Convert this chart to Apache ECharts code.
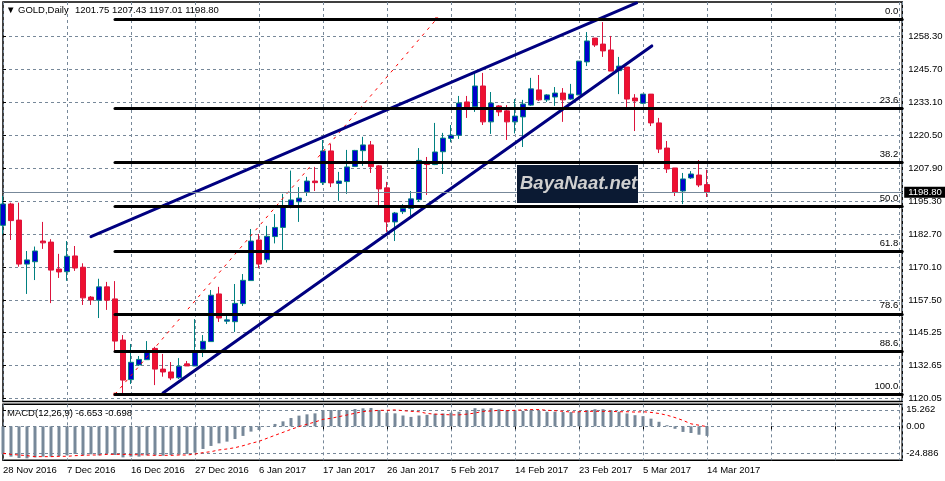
<!DOCTYPE html>
<html>
<head>
<meta charset="utf-8">
<title>GOLD Daily</title>
<script src="https://cdn.jsdelivr.net/npm/echarts@6/dist/echarts.min.js"></script>
<style>
html, body { margin: 0; padding: 0; background: #fff; }
#main { width: 945px; height: 481px; }
</style>
</head>
<body>
<div id="main"></div>
<script>
// bar dates, one per daily candle
var dates = [
  '28 Nov 2016','29 Nov 2016','30 Nov 2016','1 Dec 2016','2 Dec 2016','4 Dec 2016','5 Dec 2016','6 Dec 2016',
  '7 Dec 2016','8 Dec 2016','9 Dec 2016','11 Dec 2016','12 Dec 2016','13 Dec 2016','14 Dec 2016','15 Dec 2016',
  '16 Dec 2016','18 Dec 2016','19 Dec 2016','20 Dec 2016','21 Dec 2016','22 Dec 2016','23 Dec 2016','26 Dec 2016',
  '27 Dec 2016','28 Dec 2016','29 Dec 2016','30 Dec 2016','2 Jan 2017','3 Jan 2017','4 Jan 2017','5 Jan 2017',
  '6 Jan 2017','8 Jan 2017','9 Jan 2017','10 Jan 2017','11 Jan 2017','12 Jan 2017','13 Jan 2017','15 Jan 2017',
  '17 Jan 2017','18 Jan 2017','19 Jan 2017','20 Jan 2017','22 Jan 2017','23 Jan 2017','24 Jan 2017','25 Jan 2017',
  '26 Jan 2017','27 Jan 2017','29 Jan 2017','30 Jan 2017','31 Jan 2017','1 Feb 2017','2 Feb 2017','3 Feb 2017',
  '5 Feb 2017','6 Feb 2017','7 Feb 2017','8 Feb 2017','9 Feb 2017','10 Feb 2017','12 Feb 2017','13 Feb 2017',
  '14 Feb 2017','15 Feb 2017','16 Feb 2017','17 Feb 2017','19 Feb 2017','20 Feb 2017','21 Feb 2017','22 Feb 2017',
  '23 Feb 2017','24 Feb 2017','26 Feb 2017','27 Feb 2017','28 Feb 2017','1 Mar 2017','2 Mar 2017','3 Mar 2017',
  '5 Mar 2017','6 Mar 2017','7 Mar 2017','8 Mar 2017','9 Mar 2017','10 Mar 2017','12 Mar 2017','13 Mar 2017',
  '14 Mar 2017'
];
var opens = [
  1186.2,1194.35,1188.2,1171.4,1172.3,1180.2,1179.8,1169.5,1168.5,1174.5,1170.2,1158.8,1157.6,1162.7,1158.1,1142.4,
  1127.3,1132.9,1134.9,1139.2,1131.3,1130.2,1128.0,1133.3,1132.5,1138.9,1141.8,1160.0,1149.6,1149.4,1156.3,1165.1,
  1180.6,1173.1,1181.9,1185.4,1193.3,1195.2,1198.9,1203.1,1202.5,1214.6,1202.2,1202.9,1208.7,1214.7,1216.9,1208.9,
  1200.5,1187.5,1191.4,1192.7,1196.0,1209.75,1209.4,1214.3,1219.4,1220.6,1233.3,1231.5,1239.4,1225.7,1231.8,1229.9,
  1225.7,1227.6,1232.1,1237.9,1234.1,1235.2,1236.7,1234.4,1236.0,1248.6,1257.7,1255.4,1253.15,1245.25,1246.65,1234.8,
  1232.8,1236.3,1225.3,1215.7,1208.1,1199.3,1204.3,1205.4,1201.75
];
var closes = [
  1194.35,1188.0,1171.4,1173.0,1176.4,1179.5,1169.1,1168.4,1174.4,1169.9,1158.5,1157.7,1162.7,1157.6,1142.0,1127.1,
  1133.9,1135.0,1137.8,1131.3,1130.2,1127.9,1132.4,1132.5,1137.8,1141.9,1159.5,1150.8,1150.1,1156.4,1165.2,1180.2,
  1171.4,1182.0,1185.4,1193.1,1195.9,1196.6,1203.1,1202.5,1214.6,1202.4,1203.1,1208.5,1214.8,1216.9,1208.6,1200.1,
  1187.5,1190.9,1192.7,1196.3,1211.0,1209.4,1214.2,1219.5,1220.6,1232.9,1231.0,1239.4,1225.7,1232.9,1229.5,1225.7,
  1227.9,1232.5,1238.3,1234.1,1236.0,1236.7,1234.1,1236.3,1248.9,1256.6,1255.05,1252.8,1245.1,1247.0,1234.4,1233.7,
  1236.3,1225.3,1215.3,1207.7,1198.9,1203.9,1205.8,1201.6,1198.80
];
var lows = [
  1182.76,1180.6,1170.4,1160.0,1165.3,1177.2,1156.5,1166.1,1165.0,1168.8,1155.8,1155.8,1150.8,1153.9,1138.0,1122.0,
  1125.6,1132.5,1134.8,1125.2,1128.4,1127.1,1127.5,1132.5,1132.5,1135.9,1141.8,1149.3,1148.5,1145.5,1155.4,1165.1,
  1169.8,1172.0,1179.3,1176.8,1192.7,1187.5,1197.4,1199.3,1201.6,1200.8,1195.5,1198.2,1208.6,1208.9,1206.2,1193.3,
  1183.7,1180.2,1190.5,1189.8,1195.1,1197.8,1209.2,1205.8,1217.9,1219.2,1227.2,1229.5,1224.5,1221.1,1227.9,1218.8,
  1221.3,1216.1,1231.8,1233.7,1233.3,1231.8,1225.7,1234.1,1236.0,1247.0,1254.3,1250.5,1245.1,1236.3,1231.3,1222.2,
  1232.5,1224.1,1213.8,1206.2,1197.4,1194.3,1203.9,1200.8,1197.01
];
var highs = [
  1197.4,1194.85,1194.85,1176.4,1178.1,1187.5,1180.9,1175.3,1180.2,1178.3,1171.7,1159.2,1165.8,1164.6,1164.9,1144.3,
  1140.9,1136.3,1142.0,1139.8,1137.1,1134.0,1135.5,1134.4,1150.4,1144.3,1161.5,1162.7,1152.0,1163.8,1167.6,1184.8,
  1182.9,1186.0,1190.5,1198.2,1207.1,1200.8,1204.7,1208.5,1218.8,1217.3,1206.6,1215.0,1215.0,1220.0,1218.4,1209.2,
  1202.8,1191.3,1194.3,1199.3,1215.7,1212.3,1225.3,1221.5,1224.5,1235.6,1235.6,1245.1,1244.4,1237.1,1232.1,1232.1,
  1234.4,1234.1,1242.5,1243.6,1236.3,1239.0,1238.6,1240.2,1248.9,1260.0,1257.7,1263.8,1258.5,1250.5,1246.65,1236.3,
  1236.3,1236.3,1227.2,1218.4,1208.1,1206.2,1206.9,1211.1,1207.43
];
var macd = [
  -26,-28.1,-29.4,-29.7,-28.8,-28.1,-28.1,-27.5,-26.9,-25.6,-26.9,-25.9,-26.9,-25,-26.6,-28.8,
  -28.1,-28.1,-26.9,-26.9,-27.2,-26.6,-26.3,-25.6,-24.4,-21,-18.2,-15.8,-14.2,-11.8,-8.9,-4.9,
  -3.4,0.2,2.2,4.6,7.7,9.9,11.1,12,15.1,15.1,15.1,15.1,16,16.7,17,15.1,12.6,12,
  10,8.7,10,10.6,11.6,11.9,12.6,13.5,14.8,16.8,16.4,16.8,15.8,14.8,14.8,14.2,15.2,14.2,13.5,13.5,
  13.2,13.2,13.9,14.8,15.8,15.8,14.8,13.5,11.9,10.3,9.4,7.1,4.2,1,-2.3,-5.2,-6.2,-7.8,-8.9
];
var macdSignal = [
  -25,-26,-26.6,-27.2,-28.1,-28.1,-28.1,-27.8,-27.8,-27.2,-26.9,-26.6,-26.6,-26,-26,-26,
  -26.3,-26.3,-26.6,-26.9,-26.9,-26.9,-26.6,-26.6,-25.7,-24.4,-23.5,-21.9,-21,-19.8,-18,-15.8,
  -13.9,-11.1,-8.3,-5.6,-2.8,-0.3,1.9,4,6.5,7.4,9,10.5,12.1,13.6,14.2,14.8,14.8,15.2,
  14.5,13.9,13.5,11.9,11.3,11,10.6,10.6,11.3,12.3,13.9,14.2,14.8,14.5,14.8,15.2,15.5,15.5,14.8,14.5,
  13.9,13.2,13.5,13.9,13.9,13.9,13.9,13.5,13.5,13.2,13.5,12.9,11.9,10.3,8.1,5.5,2.3,1,-0.3
];
var priceTicks = [1258.30,1245.70,1233.10,1220.50,1207.90,1195.30,1182.70,1170.10,1157.50,1145.25,1132.65,1120.05];
var macdTicks = [15.262,0,-24.886];
var fibLevels = ['0.0','23.6','38.2','50.0','61.8','78.6','88.6','100.0'];
var fibPrices = [1265.0,1230.8,1210.4,1193.3,1176.4,1152.4,1138.0,1121.7];
var bidPrice = 1198.80;
// drawn objects, [bar index, price]
var upperChannel = [[11,1181.9],[79.2,1271.1]];
var lowerChannel = [[20,1122.2],[81.1,1254.7]];
var fibTrend = [[14,1121.7],[54.2,1265.0]];

var FONT = '"Liberation Sans",sans-serif';
var SIZE = 9.5;
var GRID = '#778899';
var LAST_X = 112.4;
var dashed = { show: true, lineStyle: { color: GRID, type: [3, 3], width: 1 } };

var candles = opens.map(function (o, i) {
    return [i, o, closes[i], lows[i], highs[i]];
});
var fibLines = fibPrices.map(function (p, i) {
    return [
        { xAxis: 14, yAxis: p, name: fibLevels[i] },
        { xAxis: LAST_X, yAxis: p }
    ];
});
fibLines.push([
    { xAxis: 0, yAxis: bidPrice, lineStyle: { color: GRID, width: 1, type: 'solid' },
      label: { position: 'end', formatter: bidPrice.toFixed(2), color: '#fff', backgroundColor: '#000',
               padding: [1, 4, 0, 4], distance: 2, offset: [0, 0], fontSize: SIZE, fontFamily: FONT } },
    { xAxis: LAST_X, yAxis: bidPrice }
]);

function channel(data) {
    return {
        type: 'line', data: data, symbol: 'none', silent: true, z: 6,
        lineStyle: { color: '#000080', width: 3, cap: 'round' }
    };
}
function caption(text, left, top) {
    return { text: text, left: left, top: top, padding: 0,
             textStyle: { fontSize: SIZE, fontWeight: 'normal', color: '#000', fontFamily: FONT } };
}

var myChart = echarts.init(document.getElementById('main'));
var option = {
    animation: false,
    backgroundColor: '#fff',
    textStyle: { fontFamily: FONT },
    title: [
        caption('▼', 6, 5),
        caption('GOLD,Daily', 18, 5),
        caption('1201.75 1207.43 1197.01 1198.80', 75, 5),
        caption('MACD(12,26,9) -6.653 -0.698', 7, 408)
    ],
    grid: [
        { left: 3, top: 2, width: 899.2, height: 399.5, show: true, borderColor: '#000', borderWidth: 1.5, outerBoundsMode: 'none' },
        { left: 3, top: 404.3, width: 899.2, height: 56, show: true, borderColor: '#000', borderWidth: 1.5, outerBoundsMode: 'none' }
    ],
    xAxis: [
        { type: 'value', gridIndex: 0, min: 0, max: LAST_X, interval: 8,
          axisLine: { show: false }, axisTick: { show: false }, axisLabel: { show: false }, splitLine: dashed },
        { type: 'value', gridIndex: 1, min: 0, max: LAST_X, interval: 8,
          axisLine: { show: false },
          axisTick: { show: true, length: 3, lineStyle: { color: '#000' } },
          axisLabel: { show: true, color: '#000', fontSize: SIZE, fontFamily: FONT, align: 'left', margin: 5,
                       showMaxLabel: false, hideOverlap: false,
                       formatter: function (v) { return dates[v] || ''; } },
          splitLine: dashed }
    ],
    yAxis: [
        { type: 'value', gridIndex: 0, position: 'right', min: 1118.93, max: 1271.47, scale: true,
          axisLine: { show: false },
          axisTick: { show: true, length: 3, customValues: priceTicks, lineStyle: { color: '#000' } },
          axisLabel: { show: true, customValues: priceTicks, color: '#000', fontSize: SIZE, fontFamily: FONT, margin: 6,
                       formatter: function (v) { return v.toFixed(2); } },
          splitLine: { show: true, customValues: priceTicks, lineStyle: dashed.lineStyle } },
        { type: 'value', gridIndex: 1, position: 'right', min: -31.5, max: 20.4, scale: true,
          axisLine: { show: false },
          axisTick: { show: true, length: 3, customValues: macdTicks, lineStyle: { color: '#000' } },
          axisLabel: { show: true, customValues: macdTicks, color: '#000', fontSize: SIZE, fontFamily: FONT, margin: 4,
                       formatter: function (v) { return v === 0 ? '0.00' : String(v); } },
          splitLine: { show: true, customValues: [0], lineStyle: dashed.lineStyle } }
    ],
    series: [
        {
            name: 'GOLD', type: 'candlestick', xAxisIndex: 0, yAxisIndex: 0, data: candles,
            encode: { x: 0, y: [1, 2, 3, 4] },
            barWidth: 5, silent: true, z: 3,
            itemStyle: { color: '#0000CD', color0: '#EE1030', borderColor: '#008080', borderColor0: '#DC143C', borderWidth: 1 },
            markLine: {
                silent: true, symbol: 'none', animation: false, z: 8,
                lineStyle: { color: '#000', width: 3, type: 'solid', cap: 'round' },
                label: { position: 'insideEndTop', formatter: '{b}', color: '#000', fontSize: SIZE, fontFamily: FONT, offset: [1, 2] },
                data: fibLines
            }
        },
        {
            name: 'fib trend', type: 'line', data: fibTrend, symbol: 'rect', symbolSize: 3, silent: true, z: 4,
            itemStyle: { color: '#FF0000' },
            lineStyle: { color: '#FF0000', width: 1, type: [3, 5] }
        },
        channel(upperChannel),
        channel(lowerChannel),
        {
            name: 'MACD', type: 'bar', xAxisIndex: 1, yAxisIndex: 1, barWidth: 3, silent: true,
            itemStyle: { color: GRID },
            data: macd.map(function (v, i) { return [i, v]; })
        },
        {
            name: 'Signal', type: 'line', xAxisIndex: 1, yAxisIndex: 1, symbol: 'none', silent: true, z: 4,
            lineStyle: { color: '#FF0000', width: 1, type: [3, 3] },
            data: macdSignal.map(function (v, i) { return [i, v]; })
        }
    ],
    graphic: [
        { type: 'rect', z: 100, shape: { x: 517, y: 165, width: 121, height: 38 }, style: { fill: '#0B1A33' } },
        { type: 'text', z: 101, x: 520, y: 174, style: { text: 'BayaNaat.net', fill: '#D0D0D0',
          font: 'italic bold 18.5px "Liberation Sans",sans-serif' } }
    ]
};
myChart.setOption(option);
</script>
</body>
</html>
